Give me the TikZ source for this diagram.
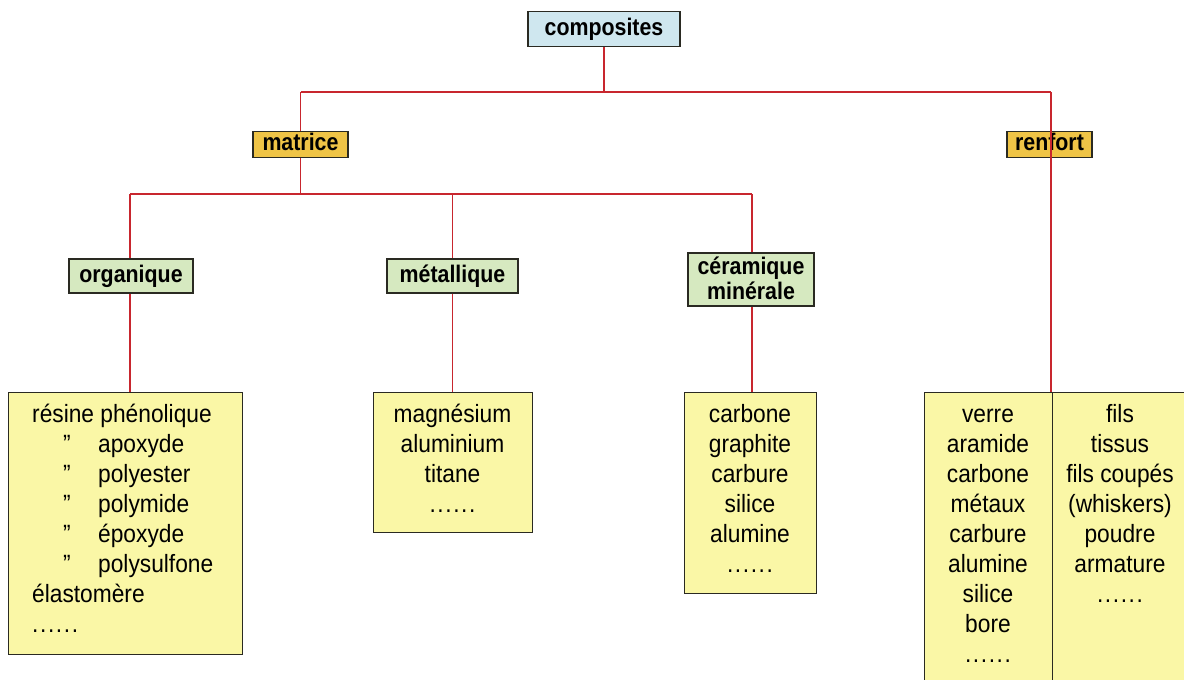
\documentclass[tikz,border=0pt]{standalone}
\usepackage{fontspec}
\setmainfont{Liberation Sans}
\newfontfamily\condfont[FakeStretch=0.89]{Liberation Sans}
\newfontfamily\listfont[FakeStretch=0.91]{Liberation Sans}
\newcommand\sixdots{.\kern1.6pt.\kern1.6pt.\kern1.6pt.\kern1.6pt.\kern1.6pt.}
\definecolor{hblue}{HTML}{CFE7EF}
\definecolor{hgold}{HTML}{EFC446}
\definecolor{hgreen}{HTML}{D6E9C0}
\definecolor{tyellow}{HTML}{FAF7A6}
\definecolor{linkred}{HTML}{C8262E}
\definecolor{edge}{HTML}{2A2A22}
\begin{document}
\begin{tikzpicture}[x=1pt,y=-1pt,
  hdr/.style={draw=edge, line width=1.4pt, inner sep=0pt,
    font=\condfont\bfseries\fontsize{24}{25}\selectfont,
    text height=19pt, text depth=6.5pt},
  hdrtxt/.style={inner sep=0pt, anchor=base,
    font=\condfont\bfseries\fontsize{24}{25}\selectfont},
  tbl/.style={draw=edge, line width=1.4pt, fill=tyellow, inner sep=0pt, anchor=north west},
  txt/.style={inner sep=0pt, anchor=base, font=\listfont\fontsize{25}{30}\selectfont},
  txtl/.style={txt, anchor=base west},
  link/.style={draw=linkred, line width=1.3pt}]
\useasboundingbox (0,0) rectangle (1184,680);
\fill[white] (0,0) rectangle (1184,680);
\clip (0,0) rectangle (1184,680);

% header boxes
\node[hdr, fill=hblue, minimum width=152pt, minimum height=35pt] (comp) at (604,29) {composites};
\node[hdr, fill=hgold, minimum width=95pt, minimum height=25pt] (mat) at (300.5,144.5) {matrice};
\node[hdr, fill=hgold, minimum width=85pt, minimum height=25pt] (ren) at (1049.5,144.5) {renfort};
\node[hdr, fill=hgreen, minimum width=124pt, minimum height=34pt] (org) at (131,276) {organique};
\node[hdr, fill=hgreen, minimum width=131pt, minimum height=34pt] (met) at (452.5,276) {métallique};
\node[hdr, fill=hgreen, minimum width=126pt, minimum height=53pt] (cer) at (751,279.5) {};
\node[hdrtxt] (cer1) at (751,274) {céramique};
\node[hdrtxt] (cer2) at (751,299) {minérale};

% tables
\node[tbl, minimum width=234pt, minimum height=262pt] (orgtab) at (8,392) {};
\node[tbl, minimum width=159pt, minimum height=140pt] (mettab) at (373,392) {};
\node[tbl, minimum width=132pt, minimum height=201pt] (certab) at (684,392) {};
\node[tbl, minimum width=128pt, minimum height=320pt] (rtabl) at (924,392) {};
\node[tbl, minimum width=150pt, minimum height=320pt] (rtabr) at (1052,392) {};

% connectors
\coordinate (j1) at (604,92);
\coordinate (jl) at (300.5,92);
\coordinate (jr) at (1051,92);
\coordinate (j2) at (300.5,194);
\coordinate (ja) at (130,194);
\coordinate (jb) at (452.5,194);
\coordinate (jc) at (752,194);
\draw[link] (comp.south) -- (j1);
\draw[link] (jl) -- (jr);
\draw[link] (jl) -- (mat.north);
\draw[link] (mat.south) -- (j2);
\draw[link] (ja) -- (jc);
\draw[link] (ja) -- (ja |- org.north);
\draw[link] (jb) -- (met.north);
\draw[link] (jc) -- (jc |- cer.north);
\draw[link] (ja |- org.south) -- (ja |- orgtab.north);
\draw[link] (met.south) -- (met.south |- mettab.north);
\draw[link] (jc |- cer.south) -- (jc |- certab.north);
\draw[link] (jr) -- (jr |- rtabr.north);

% organique list
\node[txtl] (o0) at (32,422) {résine phénolique};
\foreach \w [count=\i] in {apoxyde,polyester,polymide,époxyde,polysulfone}{
  \node[txtl] (oq\i) at (63,{422+30*\i}) {”};
  \node[txtl] (ow\i) at (98,{422+30*\i}) {\w};
}
\node[txtl] (o6) at (32,602) {élastomère};
\node[txtl] (o7) at (32,632) {\sixdots};

% metallique list
\foreach \w [count=\i from 0] in {magnésium,aluminium,titane,\sixdots}{
  \node[txt] (m\i) at (452.5,{422+30*\i}) {\w};
}
% ceramique list
\foreach \w [count=\i from 0] in {carbone,graphite,carbure,silice,alumine,\sixdots}{
  \node[txt] (c\i) at (750,{422+30*\i}) {\w};
}
% renfort lists
\foreach \w [count=\i from 0] in {verre,aramide,carbone,métaux,carbure,alumine,silice,bore,\sixdots}{
  \node[txt] (rl\i) at (988,{422+30*\i}) {\w};
}
\foreach \w [count=\i from 0] in {fils,tissus,fils coupés,(whiskers),poudre,armature,\sixdots}{
  \node[txt] (rr\i) at (1120,{422+30*\i}) {\w};
}
\end{tikzpicture}
\end{document}
